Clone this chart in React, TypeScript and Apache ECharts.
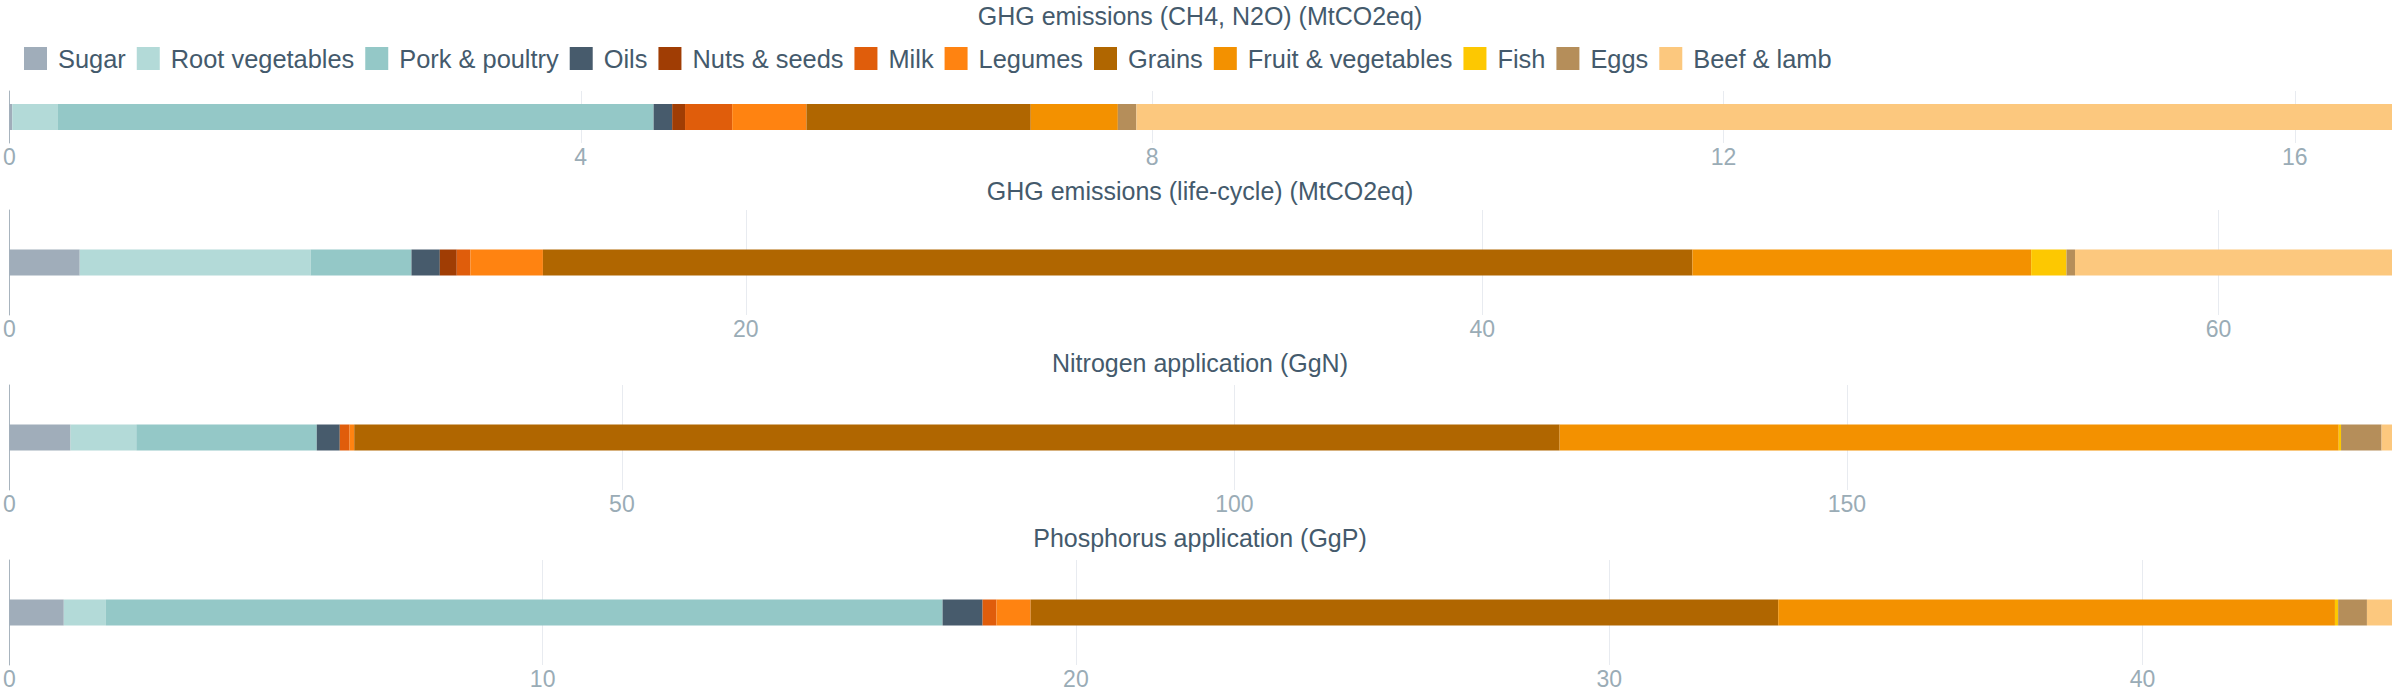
import React, { useEffect, useRef } from "react";
import * as echarts from "echarts";

const categories = [
  "Sugar",
  "Root vegetables",
  "Pork & poultry",
  "Oils",
  "Nuts & seeds",
  "Milk",
  "Legumes",
  "Grains",
  "Fruit & vegetables",
  "Fish",
  "Eggs",
  "Beef & lamb",
];

const colors = [
  "#a0adba",
  "#b3dad8",
  "#94c8c7",
  "#475b6c",
  "#a03d04",
  "#e05d0b",
  "#ff8311",
  "#b06600",
  "#f39100",
  "#fdc801",
  "#b58e5a",
  "#fcc87e",
];

const ghgDirect = [0.02, 0.32, 4.17, 0.13, 0.09, 0.33, 0.52, 1.57, 0.61, 0, 0.13, 8.79];
const ghgLifecycle = [1.91, 6.27, 2.74, 0.77, 0.46, 0.37, 1.97, 31.22, 9.2, 0.96, 0.23, 8.61];
const nitrogen = [4.99, 5.37, 14.73, 1.88, 0, 0.8, 0.38, 98.4, 63.6, 0.19, 3.31, 0.85];
const phosphorus = [1.02, 0.79, 15.69, 0.75, 0, 0.26, 0.64, 14.02, 10.44, 0.06, 0.54, 0.47];

const panelTitles = [
  "GHG emissions (CH4, N2O) (MtCO2eq)",
  "GHG emissions (life-cycle) (MtCO2eq)",
  "Nitrogen application (GgN)",
  "Phosphorus application (GgP)",
];
const panelData = [ghgDirect, ghgLifecycle, nitrogen, phosphorus];
const tickIntervals = [4, 20, 50, 10];

const FONT = "'Liberation Sans', Arial, sans-serif";
const TEXT = "#445a6c";
const TICK = "#9aacb6";

export default function App() {
  const ref = useRef<HTMLDivElement>(null);
  useEffect(() => {
    if (!ref.current) return;
    const chart = echarts.init(ref.current, undefined, { renderer: "svg" });

    const gridLayout = [
      { top: 91, height: 52 },
      { top: 210, height: 105 },
      { top: 385, height: 105 },
      { top: 560, height: 105 },
    ];
    const titleTops = [3, 178, 350, 525];

    const grids = gridLayout.map((g) => ({ left: 8, right: 8, top: g.top, height: g.height, containLabel: false }));
    const xAxes = panelData.map((arr, i) => ({
      type: "value",
      gridIndex: i,
      min: 0,
      max: arr.reduce((a, b) => a + b, 0),
      interval: tickIntervals[i],
      axisLine: { show: false },
      axisTick: { show: false },
      axisLabel: {
        show: true,
        showMaxLabel: false,
        color: TICK,
        fontSize: 23,
        fontFamily: FONT,
        margin: 2,
      },
      splitLine: { show: true, showMinLine: false, showMaxLine: false, lineStyle: { color: "#e8ebf0", width: 1 } },
    }));
    const yAxes = panelData.map((_, i) => ({
      type: "category",
      gridIndex: i,
      data: ["total"],
      axisLine: { show: true, lineStyle: { color: "#a8b4be", width: 1 } },
      axisTick: { show: false },
      axisLabel: { show: false },
      splitLine: { show: false },
    }));

    const series: any[] = [];
    panelData.forEach((arr, p) => {
      categories.forEach((name, c) => {
        series.push({
          type: "bar",
          name,
          xAxisIndex: p,
          yAxisIndex: p,
          stack: "panel" + p,
          barWidth: 26,
          itemStyle: { color: colors[c] },
          data: [arr[c]],
        });
      });
    });

    chart.setOption({
      animation: false,
      color: colors,
      textStyle: { fontFamily: FONT },
      title: panelTitles.map((t, i) => ({
        text: t,
        left: "center",
        top: titleTops[i],
        padding: 0,
        textStyle: { fontSize: 25, fontWeight: "normal", color: TEXT, fontFamily: FONT },
      })),
      legend: {
        data: categories,
        left: 24,
        top: 46,
        padding: 0,
        icon: "rect",
        itemWidth: 23,
        itemHeight: 23,
        itemGap: 11,
        selectedMode: true,
        textStyle: { fontSize: 25.4, color: TEXT, fontFamily: FONT, padding: [0, 0, 0, 6] },
      },
      grid: grids,
      xAxis: xAxes,
      yAxis: yAxes,
      series,
    });
    return () => chart.dispose();
  }, []);
  return (
    <div
      ref={ref}
      style={{ position: "absolute", left: 0, top: 0, width: 2400, height: 700 }}
    />
  );
}
